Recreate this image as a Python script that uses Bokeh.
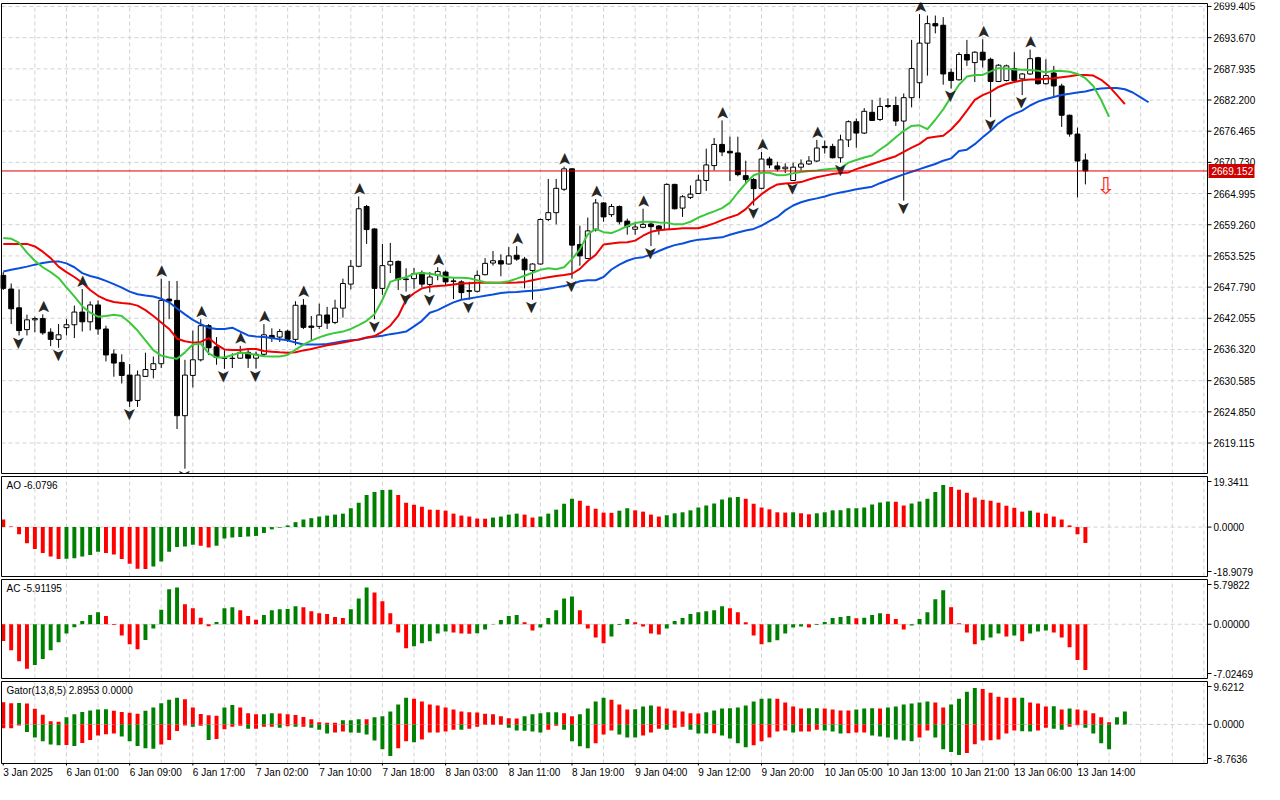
import math
from bokeh.plotting import figure
from bokeh.layouts import column
from bokeh.models import Range1d, ColumnDataSource
from bokeh.core.properties import value
from bokeh.embed import file_html
from bokeh.resources import INLINE

# ---------------- data (XAUUSD H1) ----------------
opens = [2649.95, 2647.44, 2643.98, 2639.97, 2641.77, 2642.00, 2639.50, 2638.18, 2640.33, 2640.87,
 2643.20, 2641.41, 2644.51, 2640.09, 2635.49, 2633.94, 2631.61, 2626.95, 2631.37, 2632.63,
 2633.70, 2645.59, 2645.35, 2624.14, 2631.55, 2634.42, 2640.69, 2636.81, 2634.72, 2634.66,
 2634.72, 2635.79, 2634.72, 2635.43, 2638.90, 2638.60, 2639.68, 2638.18, 2644.45, 2640.63,
 2640.57, 2642.66, 2641.29, 2643.92, 2648.34, 2651.62, 2662.61, 2658.49, 2647.56, 2651.86,
 2652.52, 2649.29, 2649.35, 2650.43, 2648.28, 2649.95, 2650.55, 2648.93, 2648.75, 2647.14,
 2647.02, 2650.07, 2652.22, 2652.64, 2652.04, 2653.65, 2652.94, 2650.85, 2652.04, 2660.23,
 2661.48, 2665.78, 2669.54, 2655.63, 2653.05, 2658.32, 2663.27, 2661.12, 2662.62, 2659.93,
 2658.43, 2658.79, 2659.39, 2659.03, 2658.43, 2666.68, 2662.32, 2664.29, 2665.01, 2667.40,
 2670.14, 2674.03, 2672.77, 2672.47, 2668.29, 2667.58, 2665.96, 2671.34, 2670.08, 2669.55,
 2667.40, 2669.85, 2670.44, 2670.98, 2673.67, 2673.67, 2671.58, 2674.86, 2678.21, 2676.12,
 2679.94, 2678.62, 2681.19, 2681.19, 2678.33, 2682.63, 2685.38, 2692.66, 2696.25, 2695.95,
 2687.29, 2685.91, 2690.57, 2689.08, 2690.99, 2689.68, 2685.61, 2685.79, 2688.00, 2686.09,
 2686.99, 2689.98, 2685.20, 2687.17, 2684.78, 2679.40, 2675.94, 2671.16]

highs = [2650.55, 2648.46, 2647.38, 2642.72, 2642.36, 2642.78, 2640.21, 2640.99, 2641.89, 2644.39,
 2647.44, 2645.17, 2645.35, 2640.69, 2636.33, 2635.43, 2633.64, 2632.45, 2635.73, 2635.02,
 2649.35, 2648.93, 2648.93, 2634.42, 2639.79, 2641.89, 2640.99, 2638.60, 2636.21, 2635.61,
 2636.99, 2636.51, 2635.91, 2640.99, 2640.21, 2640.09, 2639.97, 2645.20, 2645.60, 2642.48,
 2644.75, 2644.16, 2645.47, 2649.35, 2652.76, 2664.47, 2662.91, 2658.60, 2655.74, 2655.92,
 2652.70, 2651.26, 2651.30, 2650.85, 2650.55, 2651.44, 2650.85, 2649.65, 2649.05, 2648.76,
 2650.85, 2653.12, 2654.43, 2653.83, 2655.15, 2655.33, 2653.35, 2652.16, 2660.40, 2667.69,
 2667.69, 2669.96, 2669.70, 2659.09, 2660.58, 2663.99, 2663.40, 2663.09, 2662.80, 2660.40,
 2659.81, 2662.20, 2659.81, 2659.21, 2666.86, 2666.80, 2664.71, 2666.50, 2668.47, 2673.25,
 2675.22, 2678.45, 2675.46, 2675.46, 2671.04, 2667.87, 2672.65, 2671.76, 2670.86, 2670.56,
 2670.68, 2671.28, 2671.88, 2674.86, 2674.74, 2674.15, 2675.82, 2678.45, 2678.81, 2680.72,
 2682.21, 2682.63, 2682.51, 2682.81, 2683.40, 2693.26, 2698.00, 2697.74, 2697.74, 2697.44,
 2688.00, 2690.99, 2693.26, 2691.17, 2693.38, 2689.98, 2688.78, 2688.72, 2690.99, 2687.17,
 2691.47, 2690.15, 2689.68, 2688.48, 2685.20, 2679.52, 2677.13, 2672.35]

lows = [2647.26, 2640.99, 2638.90, 2638.90, 2639.50, 2639.02, 2636.93, 2636.63, 2638.90, 2638.42,
 2639.62, 2639.80, 2639.02, 2634.12, 2631.31, 2630.06, 2625.76, 2625.76, 2631.25, 2631.01,
 2632.92, 2641.89, 2621.69, 2614.40, 2629.34, 2634.12, 2635.31, 2633.52, 2632.75, 2632.92,
 2634.60, 2632.92, 2632.80, 2635.02, 2637.70, 2637.70, 2637.70, 2637.11, 2640.09, 2638.00,
 2640.09, 2640.09, 2640.99, 2642.18, 2647.38, 2651.44, 2655.74, 2641.88, 2646.37, 2650.37,
 2647.26, 2646.96, 2647.50, 2647.74, 2646.80, 2649.05, 2648.16, 2645.59, 2645.59, 2645.47,
 2646.78, 2649.95, 2651.74, 2649.77, 2651.92, 2652.64, 2647.56, 2645.47, 2651.92, 2659.93,
 2659.33, 2665.48, 2649.35, 2651.74, 2652.94, 2658.02, 2659.81, 2660.70, 2659.33, 2657.42,
 2657.42, 2658.61, 2655.33, 2657.42, 2658.32, 2662.08, 2660.70, 2663.99, 2664.89, 2665.48,
 2669.25, 2671.88, 2667.28, 2668.17, 2666.80, 2662.80, 2665.78, 2669.67, 2669.07, 2668.77,
 2667.28, 2669.25, 2670.26, 2670.80, 2672.35, 2671.46, 2670.68, 2673.55, 2673.43, 2675.94,
 2678.33, 2678.33, 2680.72, 2677.43, 2663.69, 2680.84, 2682.51, 2686.69, 2694.46, 2685.02,
 2684.30, 2685.79, 2688.48, 2685.50, 2688.18, 2679.04, 2685.50, 2685.61, 2685.50, 2683.10,
 2686.81, 2685.02, 2685.02, 2682.63, 2677.25, 2675.46, 2664.29, 2666.68]

closes = [2647.56, 2643.80, 2639.79, 2641.77, 2642.00, 2639.38, 2638.18, 2639.02, 2640.87, 2643.20,
 2641.41, 2644.51, 2640.09, 2635.31, 2633.82, 2631.55, 2626.83, 2631.61, 2632.63, 2633.70,
 2645.35, 2645.23, 2624.14, 2631.61, 2634.42, 2640.69, 2636.63, 2634.84, 2634.66, 2634.72,
 2635.79, 2634.72, 2635.43, 2639.02, 2638.42, 2639.62, 2638.18, 2644.45, 2640.39, 2640.39,
 2642.66, 2641.17, 2643.92, 2648.45, 2651.62, 2662.20, 2658.37, 2647.56, 2651.74, 2652.52,
 2649.17, 2649.17, 2650.25, 2648.34, 2649.65, 2650.67, 2648.75, 2648.81, 2646.78, 2647.02,
 2649.95, 2652.16, 2652.64, 2652.04, 2653.53, 2652.94, 2650.97, 2652.04, 2660.23, 2661.48,
 2665.96, 2669.54, 2655.51, 2653.53, 2658.13, 2663.27, 2660.70, 2662.62, 2659.81, 2658.91,
 2658.85, 2659.33, 2658.91, 2658.43, 2666.68, 2662.20, 2664.41, 2664.89, 2667.46, 2670.26,
 2674.03, 2672.65, 2672.47, 2668.47, 2667.58, 2665.90, 2671.34, 2670.26, 2669.49, 2669.85,
 2669.85, 2670.44, 2670.98, 2673.37, 2673.43, 2671.58, 2674.86, 2678.21, 2676.12, 2680.12,
 2678.45, 2681.01, 2681.01, 2678.33, 2682.63, 2688.00, 2692.66, 2696.25, 2695.83, 2686.99,
 2685.79, 2690.57, 2689.56, 2690.99, 2689.56, 2685.61, 2688.60, 2688.48, 2685.79, 2686.99,
 2689.80, 2685.20, 2686.69, 2684.78, 2679.40, 2675.94, 2670.98, 2669.152]

# Alligator (as plotted, shifted forward: jaw +8, teeth +5, lips +3 bars)
jaw = [2650.67, 2650.97, 2651.26, 2651.56, 2651.92, 2652.22, 2652.46, 2652.52, 2652.16, 2651.44,
 2650.37, 2649.83, 2649.47, 2648.93, 2648.34, 2647.68, 2646.96, 2646.48, 2646.25, 2646.07,
 2645.65, 2644.99, 2643.86, 2642.78, 2641.77, 2640.99, 2640.33, 2640.09, 2640.09, 2640.33,
 2639.62, 2638.90, 2638.72, 2638.60, 2638.42, 2638.18, 2638.00, 2637.60, 2637.22, 2637.22,
 2637.22, 2637.34, 2637.58, 2637.82, 2638.00, 2638.12, 2638.48, 2638.66, 2638.84, 2639.14,
 2639.37, 2639.61, 2640.57, 2641.59, 2643.08, 2643.56, 2644.28, 2644.99, 2645.47, 2645.71,
 2645.95, 2646.19, 2646.42, 2646.72, 2646.84, 2646.90, 2647.02, 2647.14, 2647.26, 2647.50,
 2647.74, 2647.98, 2648.34, 2648.87, 2649.05, 2649.06, 2649.65, 2651.03, 2651.92, 2652.64,
 2653.12, 2653.30, 2653.77, 2654.43, 2655.03, 2655.51, 2655.81, 2656.23, 2656.52, 2656.64,
 2656.82, 2656.94, 2657.42, 2657.84, 2658.20, 2658.49, 2659.09, 2659.93, 2660.70, 2661.90,
 2662.80, 2663.39, 2663.81, 2664.11, 2664.47, 2664.89, 2665.19, 2665.48, 2665.78, 2666.02,
 2666.26, 2666.90, 2667.45, 2667.99, 2668.53, 2669.01, 2669.48, 2669.96, 2670.44, 2671.04,
 2671.46, 2672.83, 2673.07, 2674.08, 2675.34, 2676.53, 2677.91, 2678.92, 2679.64, 2680.24,
 2681.19, 2681.91, 2682.39, 2682.75, 2683.11, 2683.34, 2683.58, 2683.76, 2684.12, 2684.30,
 2684.42, 2684.42, 2684.18, 2683.58, 2682.69, 2681.79]

teeth = [2655.74, 2655.74, 2655.74, 2655.74, 2655.27, 2654.31, 2653.12, 2651.56, 2650.55, 2649.65,
 2648.58, 2647.26, 2646.19, 2645.47, 2645.05, 2644.87, 2644.75, 2644.39, 2643.56, 2642.48,
 2641.29, 2640.09, 2638.30, 2637.82, 2637.58, 2637.70, 2638.42, 2637.23, 2636.33, 2636.21,
 2636.21, 2636.39, 2636.39, 2636.03, 2635.91, 2635.79, 2635.73, 2635.80, 2636.15, 2636.39,
 2636.75, 2637.11, 2637.34, 2637.58, 2637.88, 2638.18, 2638.54, 2638.78, 2639.62, 2640.69,
 2642.48, 2645.47, 2646.66, 2647.56, 2647.86, 2647.98, 2648.10, 2648.28, 2648.45, 2648.51,
 2648.57, 2648.57, 2648.57, 2648.57, 2648.57, 2648.63, 2648.75, 2649.05, 2649.35, 2649.59,
 2649.83, 2650.01, 2650.25, 2651.14, 2652.60, 2653.72, 2655.63, 2655.81, 2655.98, 2656.04,
 2656.34, 2657.24, 2657.96, 2658.26, 2658.37, 2658.49, 2658.61, 2658.61, 2658.61, 2659.03,
 2659.51, 2660.11, 2660.65, 2661.12, 2662.14, 2663.63, 2664.89, 2665.90, 2666.68, 2666.86,
 2666.92, 2667.10, 2667.58, 2667.99, 2668.29, 2668.59, 2668.77, 2668.89, 2669.49, 2669.96,
 2670.44, 2670.92, 2671.40, 2671.87, 2672.65, 2673.43, 2674.14, 2675.22, 2675.46, 2675.64,
 2676.77, 2678.33, 2680.24, 2682.21, 2683.11, 2683.70, 2684.60, 2685.14, 2685.50, 2685.85,
 2685.97, 2685.97, 2686.09, 2686.21, 2686.39, 2686.57, 2686.81, 2686.81, 2686.69, 2685.91,
 2684.72, 2683.11, 2681.43]

lips = [2656.82, 2656.70, 2655.92, 2654.13, 2652.64, 2651.44, 2650.55, 2649.47, 2647.74, 2646.07,
 2644.28, 2643.08, 2642.36, 2642.48, 2642.72, 2642.48, 2641.29, 2639.80, 2638.00, 2636.21,
 2635.19, 2634.84, 2634.60, 2635.79, 2637.23, 2637.40, 2635.61, 2634.84, 2634.84, 2635.31,
 2635.73, 2635.61, 2635.31, 2635.07, 2635.01, 2635.01, 2635.31, 2636.30, 2637.22, 2637.94,
 2638.54, 2639.02, 2639.37, 2639.61, 2640.09, 2640.81, 2641.59, 2642.78, 2645.47, 2648.76,
 2649.29, 2649.59, 2650.25, 2650.37, 2650.25, 2650.01, 2649.65, 2649.53, 2649.53, 2649.41,
 2649.05, 2648.69, 2648.57, 2648.63, 2648.87, 2649.35, 2649.89, 2650.43, 2650.97, 2651.26,
 2651.08, 2651.44, 2652.94, 2654.73, 2657.50, 2658.49, 2657.90, 2657.72, 2658.32, 2659.03,
 2659.57, 2659.81, 2659.81, 2659.69, 2659.63, 2659.33, 2659.33, 2659.81, 2660.59, 2661.18,
 2661.72, 2662.32, 2663.33, 2665.19, 2666.86, 2668.35, 2668.83, 2668.83, 2668.35, 2668.41,
 2668.71, 2668.95, 2669.13, 2669.25, 2669.43, 2669.55, 2669.67, 2670.68, 2671.16, 2671.64,
 2672.00, 2673.10, 2674.10, 2675.34, 2676.53, 2677.43, 2677.55, 2676.83, 2678.57, 2680.48,
 2682.81, 2685.02, 2686.51, 2686.81, 2686.81, 2687.47, 2688.06, 2688.00, 2687.83, 2687.77,
 2687.71, 2687.59, 2687.29, 2687.59, 2687.53, 2687.41, 2686.99, 2686.21, 2684.78, 2682.21,
 2679.10]

fractal_up_bars = [5, 10, 20, 25, 30, 33, 38, 45, 55, 65, 71, 75, 81, 91, 96, 103, 116, 124, 130]
fractal_down_bars = [2, 7, 16, 23, 28, 32, 47, 51, 54, 59, 67, 72, 82, 95, 100, 106, 114, 120, 125, 129]

ao = [2.90, 0.25, -2.76, -6.15, -8.41, -9.91, -11.29, -12.17, -12.10, -11.92,
 -11.29, -10.66, -9.41, -9.91, -10.54, -12.17, -14.05, -15.93, -16.00, -15.06,
 -13.17, -9.41, -7.60, -7.40, -6.78, -7.15, -7.78, -7.15, -4.39, -4.02,
 -3.76, -3.64, -3.39, -2.26, -0.88, -0.25, 0.63, 1.88, 2.89, 3.39,
 4.02, 4.39, 4.77, 5.14, 7.15, 9.28, 12.30, 13.43, 14.18, 14.25,
 12.30, 9.28, 8.53, 7.78, 6.65, 6.60, 6.27, 5.14, 4.39, 4.02,
 3.26, 3.20, 3.64, 4.02, 4.77, 5.14, 4.77, 3.64, 4.02, 5.14,
 6.65, 8.91, 10.79, 10.04, 8.16, 7.03, 5.52, 5.45, 6.27, 7.15,
 6.40, 5.90, 4.77, 4.02, 4.52, 5.27, 5.65, 6.40, 7.53, 8.28,
 9.03, 10.54, 11.29, 11.54, 10.79, 8.91, 7.53, 6.78, 5.65, 5.55,
 5.65, 5.27, 4.89, 5.27, 5.65, 6.40, 6.45, 7.15, 7.20, 7.53,
 8.66, 9.41, 9.79, 9.70, 8.28, 9.03, 9.79, 10.79, 13.43, 16.06,
 15.31, 14.30, 13.17, 11.29, 10.41, 10.04, 9.28, 8.16, 7.40, 5.90,
 6.27, 5.52, 5.14, 4.02, 2.89, 0.63, -2.76, -6.0796]

ac = [-2.17, -3.35, -4.80, -5.77, -5.27, -4.50, -3.35, -2.34, -1.19, -0.38,
 0.42, 1.19, 1.57, 1.06, -0.08, -1.44, -2.59, -3.23, -2.04, -0.55,
 1.87, 4.54, 4.76, 2.59, 2.08, 0.85, -0.25, 0.30, 2.08, 2.21,
 1.83, 1.06, 0.59, 1.19, 1.83, 1.95, 1.97, 2.34, 2.21, 1.70,
 1.44, 1.32, 0.93, 0.81, 1.95, 3.35, 4.76, 4.12, 2.97, 1.44,
 -1.06, -3.10, -2.85, -2.46, -2.21, -1.19, -0.93, -1.06, -1.19, -1.22,
 -1.17, -0.68, -0.04, 0.55, 1.06, 1.19, 0.25, -0.81, -0.42, 0.81,
 1.83, 3.35, 3.61, 1.83, -0.55, -1.70, -2.46, -1.57, -0.08, 0.68,
 0.25, -0.30, -1.19, -1.32, -0.55, 0.42, 0.81, 1.32, 1.57, 1.70,
 1.83, 2.34, 2.08, 1.57, 0.25, -1.44, -2.59, -2.34, -2.08, -1.19,
 -0.42, -0.30, -0.42, -0.08, 0.30, 0.81, 0.93, 1.06, 0.78, 0.83,
 1.19, 1.44, 1.32, 0.68, -0.68, -0.17, 0.68, 1.57, 3.23, 4.42,
 2.21, 0.13, -1.06, -2.59, -2.08, -1.70, -1.19, -1.57, -1.44, -2.21,
 -1.19, -0.93, -0.81, -1.06, -1.70, -2.97, -4.63, -5.91195]

gator_up = [4.96, 4.74, 4.80, 4.70, 3.50, 2.19, 0.73, 0.58, 1.61, 2.26,
 2.77, 3.14, 3.36, 3.40, 3.07, 2.77, 2.63, 2.41, 3.07, 3.80,
 4.74, 5.55, 5.99, 5.62, 3.80, 2.34, 2.04, 1.97, 3.80, 4.38,
 3.80, 2.48, 2.26, 2.30, 2.48, 2.45, 2.26, 2.12, 1.68, 1.17,
 0.51, 0.36, 0.35, 0.95, 0.96, 1.17, 1.15, 1.61, 1.82, 2.92,
 4.45, 5.99, 5.77, 5.11, 4.45, 4.23, 3.80, 3.36, 2.92, 2.70,
 2.68, 2.41, 2.26, 1.82, 1.39, 1.35, 1.82, 2.26, 2.48, 2.70,
 2.72, 2.48, 1.82, 2.26, 3.58, 5.11, 5.99, 5.55, 4.45, 3.36,
 3.40, 4.01, 4.23, 4.01, 3.58, 3.14, 2.92, 2.48, 2.45, 2.70,
 3.14, 3.58, 3.60, 3.80, 4.23, 5.11, 5.77, 5.80, 5.75, 4.89,
 4.01, 3.58, 3.60, 3.62, 3.58, 3.36, 3.14, 3.10, 3.36, 3.58,
 3.60, 3.55, 3.80, 4.01, 4.45, 4.67, 4.89, 5.11, 4.89, 3.80,
 4.45, 5.77, 7.30, 8.18, 7.96, 7.08, 6.20, 5.99, 5.95, 6.00,
 4.89, 4.67, 4.01, 4.05, 3.36, 3.58, 3.36, 3.14, 2.48, 1.61,
 0.51, 1.61, 2.92]

gator_down = [-0.88, -0.88, -0.22, -1.68, -2.92, -3.80, -4.53, -4.67, -4.60, -4.82,
 -4.16, -3.50, -2.48, -2.19, -2.04, -2.70, -3.80, -4.82, -5.33, -5.47,
 -4.53, -3.50, -1.46, -0.22, -0.50, -0.30, -3.50, -3.28, -1.10, -0.51,
 -0.30, -0.95, -0.95, -0.50, -0.50, -0.73, -0.40, -0.50, -0.50, -0.73,
 -1.17, -2.04, -1.82, -1.61, -1.82, -1.85, -2.26, -3.58, -5.55, -7.08,
 -5.33, -3.80, -4.01, -3.36, -1.82, -1.80, -1.61, -1.17, -1.20, -0.95,
 -0.51, -0.07, -0.07, -0.10, -0.73, -1.39, -1.40, -1.61, -1.82, -1.17,
 -0.29, -1.17, -3.80, -4.89, -5.33, -4.23, -2.26, -1.39, -2.26, -2.92,
 -2.95, -2.48, -1.82, -0.95, -1.17, -0.73, -0.51, -1.17, -2.04, -2.05,
 -2.00, -2.48, -3.14, -4.23, -5.11, -4.67, -3.80, -2.92, -1.61, -1.39,
 -1.82, -1.61, -1.60, -1.17, -1.39, -1.61, -2.04, -2.00, -1.82, -1.80,
 -2.48, -2.70, -2.92, -3.36, -3.58, -3.80, -2.92, -1.39, -2.92, -5.55,
 -6.20, -6.86, -6.42, -4.45, -3.58, -3.55, -3.36, -2.04, -1.39, -1.53,
 -1.61, -1.39, -0.73, -0.95, -1.17, -0.51, -0.20, -0.73, -2.04, -4.23,
 -5.55]

price_ticks = [2619.115, 2624.850, 2630.585, 2636.320, 2642.055, 2647.790, 2653.525, 2659.260,
               2664.995, 2670.730, 2676.465, 2682.200, 2687.935, 2693.670, 2699.405]
price_range = (2613.51, 2699.95)
current_price = 2669.152

label_bars = [0, 8, 16, 24, 32, 40, 48, 56, 64, 72, 80, 88, 96, 104, 112, 120, 128, 136]
time_labels = ["3 Jan 2025", "6 Jan 01:00", "6 Jan 09:00", "6 Jan 17:00", "7 Jan 02:00",
               "7 Jan 10:00", "7 Jan 18:00", "8 Jan 03:00", "8 Jan 11:00", "8 Jan 19:00",
               "9 Jan 04:00", "9 Jan 12:00", "9 Jan 20:00", "10 Jan 05:00", "10 Jan 13:00",
               "10 Jan 21:00", "13 Jan 06:00", "13 Jan 14:00"]

ao_range = (-18.9079, 19.3411)
ac_range = (-7.02469, 5.79822)
gator_range = (-8.7636, 9.6212)
ao_labels = ["19.3411", "0.0000", "-18.9079"]
ac_labels = ["5.79822", "0.00000", "-7.02469"]
gator_labels = ["9.6212", "0.0000", "-8.7636"]
ao_title = "AO -6.0796"
ac_title = "AC -5.91195"
gator_title = "Gator(13,8,5) 2.8953 0.0000"

signal_bar = 139.6      # red sell arrow after the last bar
signal_price = 2666.4

# ---------------- layout / styling ----------------
GREEN = "#008000"
RED = "#ff0000"
FONT = "Liberation Sans"
GRID_COLOR = "#d2d2d2"
CHART_W = 1206            # px of the bar area
FIG_W = 1263              # px incl. the price scale
X0, X1 = -0.225, 152.46   # bar-index range of the bar area
PPB = CHART_W / (X1 - X0)
XS = X0 - 1.0 / PPB
XE = XS + FIG_W / PPB
xr = Range1d(XS, XE)


def px(n):
    return n / PPB


def make_panel(panel_px, y0, y1, top_border, extra_bottom=0):
    ppu = panel_px / (y1 - y0)
    p = figure(frame_width=FIG_W, frame_height=panel_px + 2 + extra_bottom, x_range=xr,
               y_range=Range1d(y0 - (1 + extra_bottom) / ppu, y1 + 1.0 / ppu),
               output_backend="svg", toolbar_location=None,
               x_axis_location=None, y_axis_location=None,
               min_border_left=0, min_border_right=0, min_border_top=top_border,
               min_border_bottom=0, background_fill_color="white",
               border_fill_color="white", outline_line_color=None)
    p.grid.visible = False
    return p, ppu


def draw_grid(p, y0, y1, hlines):
    vx = list(range(4, 153, 4))
    p.segment(x0=vx, y0=[y0] * len(vx), x1=vx, y1=[y1] * len(vx),
              line_color=GRID_COLOR, line_dash="4 3", line_width=1)
    if hlines:
        p.segment(x0=[X0] * len(hlines), y0=hlines, x1=[X1] * len(hlines), y1=hlines,
                  line_color=GRID_COLOR, line_dash="4 3", line_width=1)


def draw_frame(p, y0, y1):
    p.segment(x0=[X0, X0, X0, X1], y0=[y0, y1, y0, y0], x1=[X1, X1, X0, X1],
              y1=[y0, y1, y1, y1], line_color="black", line_width=1)


def draw_scale(p, ticks, labels):
    p.segment(x0=[X1] * len(ticks), y0=ticks, x1=[X1 + px(4)] * len(ticks), y1=ticks,
              line_color="black", line_width=1)
    p.text(x=[X1 + px(6)] * len(ticks), y=ticks, text=labels, text_align="left",
           text_baseline="middle", text_font=value(FONT), text_font_size="10px",
           text_color="black")


def draw_title(p, text, y1, ppu):
    p.text(x=[X0 + px(5)], y=[y1 - 3.0 / ppu], text=[text], text_align="left",
           text_baseline="top", text_font=value(FONT), text_font_size="10px",
           text_color="black")


def inner_ticks(rng, ppu):
    d = 5.0 / ppu
    return [rng[1] - d, 0.0, rng[0] + d]


def up_colors(vals, first):
    cols = [first]
    for i in range(1, len(vals)):
        cols.append(GREEN if vals[i] > vals[i - 1] else RED)
    return cols


def abs_colors(vals, first):
    cols = [first]
    for i in range(1, len(vals)):
        cols.append(GREEN if abs(vals[i]) > abs(vals[i - 1]) else RED)
    return cols


# ---------------- main price panel ----------------
py0, py1 = price_range
pm, ppu_m = make_panel(470, py0, py1, top_border=2)
draw_grid(pm, py0, py1, price_ticks)

n = len(closes)
idx = list(range(n))
body_top = [max(o, c) for o, c in zip(opens, closes)]
body_bot = [min(o, c) for o, c in zip(opens, closes)]
body_fill = ["white" if c >= o else "black" for o, c in zip(opens, closes)]
csrc = ColumnDataSource(dict(x=idx, h=highs, l=lows, t=body_top, b=body_bot, f=body_fill))
pm.segment(x0="x", y0="l", x1="x", y1="h", source=csrc, line_color="black", line_width=1)
pm.vbar(x="x", top="t", bottom="b", width=0.62, source=csrc, fill_color="f",
        line_color="black", line_width=1)

pm.line(list(range(len(jaw))), jaw, line_color="#0a4fdc", line_width=2)
pm.line(list(range(len(teeth))), teeth, line_color="#f00000", line_width=2)
pm.line(list(range(len(lips))), lips, line_color="#3cc83c", line_width=2)

up_src = ColumnDataSource(dict(x=fractal_up_bars, y=[highs[i] for i in fractal_up_bars],
                               t=["\u27a4"] * len(fractal_up_bars)))
dn_src = ColumnDataSource(dict(x=fractal_down_bars, y=[lows[i] for i in fractal_down_bars],
                               t=["\u27a4"] * len(fractal_down_bars)))
pm.text(x="x", y="y", text="t", source=up_src, angle=math.pi / 2, text_align="left",
        text_baseline="middle", text_font=value("DejaVu Sans"), text_font_size="17px",
        text_color="#262626")
pm.text(x="x", y="y", text="t", source=dn_src, angle=-math.pi / 2, text_align="left",
        text_baseline="middle", text_font=value("DejaVu Sans"), text_font_size="17px",
        text_color="#262626")

pm.segment(x0=[X0], y0=[current_price], x1=[X1], y1=[current_price],
           line_color="#e00000", line_width=1)
pm.text(x=[signal_bar], y=[signal_price], text=["\u21e9"], text_align="center",
        text_baseline="middle", text_font=value("DejaVu Sans"), text_font_size="23px",
        text_color="#ff2020")

draw_frame(pm, py0, py1)
draw_scale(pm, price_ticks, ["%.3f" % t for t in price_ticks])
pm.rect(x=[X1 + px(1 + 23)], y=[current_price], width=46, height=14,
        width_units="screen", height_units="screen", fill_color="#d00000", line_color=None)
pm.text(x=[X1 + px(4)], y=[current_price], text=["%.3f" % current_price],
        text_align="left", text_baseline="middle", text_font=value(FONT),
        text_font_size="10px", text_color="white")

# ---------------- AO panel ----------------
pao, ppu_ao = make_panel(100, ao_range[0], ao_range[1], top_border=1)
draw_grid(pao, ao_range[0], ao_range[1], [0.0])
pao.vbar(x=list(range(len(ao))), top=ao, bottom=0, width=0.5,
         color=up_colors(ao, RED), line_width=0)
draw_frame(pao, ao_range[0], ao_range[1])
draw_scale(pao, inner_ticks(ao_range, ppu_ao), ao_labels)
draw_title(pao, ao_title, ao_range[1], ppu_ao)

# ---------------- AC panel ----------------
pac, ppu_ac = make_panel(99, ac_range[0], ac_range[1], top_border=1)
draw_grid(pac, ac_range[0], ac_range[1], [0.0])
pac.vbar(x=list(range(len(ac))), top=ac, bottom=0, width=0.5,
         color=up_colors(ac, RED), line_width=0)
draw_frame(pac, ac_range[0], ac_range[1])
draw_scale(pac, inner_ticks(ac_range, ppu_ac), ac_labels)
draw_title(pac, ac_title, ac_range[1], ppu_ac)

# ---------------- Gator panel + time scale ----------------
pg, ppu_g = make_panel(82, gator_range[0], gator_range[1], top_border=1, extra_bottom=18)
draw_grid(pg, gator_range[0], gator_range[1], [0.0])
pg.vbar(x=list(range(len(gator_up))), top=gator_up, bottom=0, width=0.5,
        color=abs_colors(gator_up, RED), line_width=0)
pg.vbar(x=list(range(len(gator_down))), top=0, bottom=gator_down, width=0.5,
        color=abs_colors(gator_down, RED), line_width=0)
draw_frame(pg, gator_range[0], gator_range[1])
draw_scale(pg, inner_ticks(gator_range, ppu_g), gator_labels)
draw_title(pg, gator_title, gator_range[1], ppu_g)
yl = gator_range[0] - 3.0 / ppu_g
pg.segment(x0=label_bars, y0=[gator_range[0]] * len(label_bars), x1=label_bars,
           y1=[gator_range[0] - 2.0 / ppu_g] * len(label_bars), line_color="black",
           line_width=1)
pg.text(x=label_bars, y=[yl] * len(label_bars), text=time_labels, text_align="left",
        text_baseline="top", text_font=value(FONT), text_font_size="10px",
        text_color="black")

layout = column(pm, pao, pac, pg, spacing=0)
open("out.html", "w").write(file_html(layout, INLINE))
